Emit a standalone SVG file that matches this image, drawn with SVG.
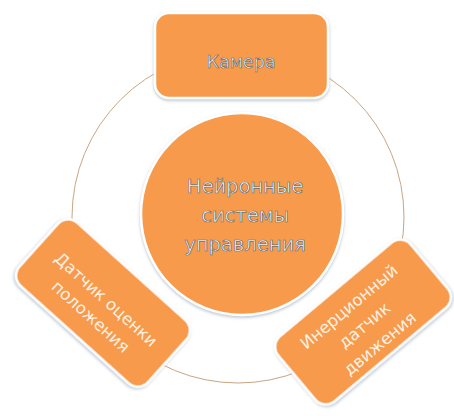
<svg xmlns="http://www.w3.org/2000/svg" width="454" height="416" viewBox="0 0 454 416">
<defs>
<filter id="sh" x="-20%" y="-20%" width="140%" height="140%">
<feDropShadow dx="0" dy="1.5" stdDeviation="1.5" flood-color="#7f94ad" flood-opacity="0.55"/>
</filter>
</defs>
<style>
.box{fill:#F79A4B;stroke:#ffffff;stroke-width:2.5;filter:url(#sh)}
.t1{font-family:"DejaVu Sans",sans-serif;fill:#ffffff;stroke:#6a6a6a;stroke-width:0.7;text-anchor:middle}
.t2{font-family:"DejaVu Sans",sans-serif;fill:#fdf1e4;font-size:16.5px;text-anchor:middle}
</style>
<rect width="454" height="416" fill="#ffffff"/>
<g id="connectors">
<circle cx="238" cy="217" r="166" fill="none" stroke="#c9a583" stroke-width="1"/>
</g>
<g id="center">
<circle class="box" cx="242" cy="214" r="101"/>
<text class="t1" font-size="19.5" x="245" y="193">Нейронные</text>
<text class="t1" font-size="19.5" x="245" y="222">системы</text>
<text class="t1" font-size="19.5" x="245" y="251">управления</text>
</g>
<g id="camera">
<rect class="box" x="155" y="13" width="173" height="85" rx="14"/>
<text class="t1" font-size="17.5" x="241" y="68">Камера</text>
</g>
<g id="position" transform="rotate(42 103 303)">
<rect class="box" x="16.5" y="260.5" width="173" height="85" rx="14"/>
<text class="t2" x="103" y="304">Датчик оценки</text>
<text class="t2" x="103" y="327">положения</text>
</g>
<g id="inertial" transform="rotate(-40 363 322)">
<rect class="box" x="276.5" y="279.5" width="173" height="85" rx="14"/>
<text class="t2" x="362" y="307">Инерционный</text>
<text class="t2" x="362" y="331">датчик</text>
<text class="t2" x="362" y="355">движения</text>
</g>
</svg>
